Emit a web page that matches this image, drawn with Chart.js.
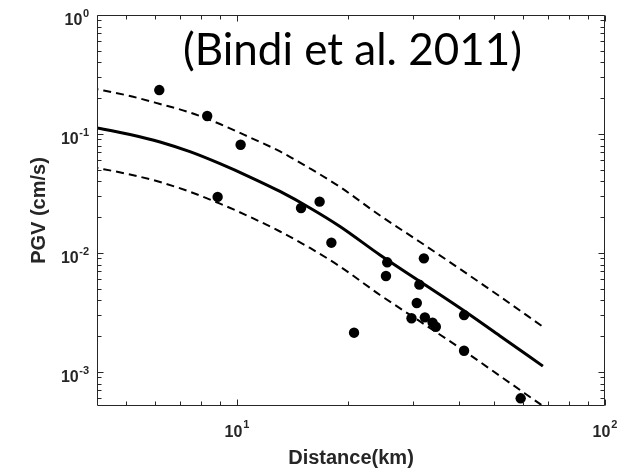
<!DOCTYPE html>
<html>
<head>
<meta charset="utf-8">
<script src="https://cdn.jsdelivr.net/npm/chart.js@4/dist/chart.umd.min.js"></script>
<style>
  html, body { margin: 0; padding: 0; background: #ffffff; }
  #wrap { width: 641px; height: 469px; }
</style>
</head>
<body>
<div id="wrap"><canvas id="c" width="641" height="469"></canvas></div>
<script>
const distanceKm = [6.15, 8.30, 10.23, 8.86, 14.93, 16.77, 18.05, 25.6, 25.4, 32.2, 31.3, 30.8, 29.8, 32.4, 34.0, 34.7, 20.8, 41.4, 41.4, 59.0];
const pgvCmS     = [0.234, 0.1417, 0.0813, 0.0296, 0.0239, 0.0270, 0.01221, 0.00835, 0.00641, 0.00902, 0.00542, 0.0038, 0.00283, 0.00288, 0.00260, 0.00240, 0.00214, 0.00301, 0.00151, 0.000601];

// ---- GMPE curves (Bindi et al. 2011) ----
const curveDistanceKm = [4, 5.12, 6.18, 7.45, 8.99, 10.85, 13.09, 15.79, 19.05, 24.47, 31.43, 40.36, 51.84, 67.8];
const medianPgv = [0.1151, 0.0990, 0.0857, 0.0710, 0.0563, 0.0435, 0.0329, 0.0239, 0.0167, 0.00962, 0.00576, 0.00345, 0.00201, 0.00112];
const upperPgv  = [0.2435, 0.2086, 0.1787, 0.1516, 0.1213, 0.0935, 0.0713, 0.0513, 0.0359, 0.02066, 0.01237, 0.00734, 0.00431, 0.0024];
const lowerPgv  = [0.0531, 0.0457, 0.0395, 0.0327, 0.0260, 0.0201, 0.01516, 0.01102, 0.0077, 0.00444, 0.00266, 0.00159, 0.000926, 0.000518];

// ---- Axes / labels ----
const xRange = [4.165, 100];
const yRange = [0.000518, 1];
const xMajorTicks = [10, 100];
const xTickExponents = ['1', '2'];
const yMajorTicks = [0.001, 0.01, 0.1, 1];
const yTickExponents = ['-3', '-2', '-1', '0'];
const xAxisTitle = 'Distance(km)';
const yAxisTitle = 'PGV (cm/s)';
const chartTitle = '(Bindi et al. 2011)';

function logTicks(min, max) {
  const out = [];
  for (let e = Math.floor(Math.log10(min)); e <= Math.ceil(Math.log10(max)); e++) {
    for (let k = 1; k <= 9; k++) {
      const v = k * Math.pow(10, e);
      if (v >= min * 0.9999 && v <= max * 1.0001) out.push({ v, major: k === 1 });
    }
  }
  return out;
}

const pts = distanceKm.map((d, i) => ({ x: d, y: pgvCmS[i] }));
const curve = arr => curveDistanceKm.map((d, i) => ({ x: d, y: arr[i] }));

const AX = '#262626';
const LABEL_FONT = '"Liberation Sans", Arial, Helvetica, sans-serif';

const framePlugin = {
  id: 'frame',
  afterDatasetsDraw(chart) {
    const { ctx, chartArea: a, scales: { x, y } } = chart;
    ctx.save();
    ctx.strokeStyle = AX;
    ctx.lineWidth = 1;
    const L = Math.round(a.left) + 0.5, R = Math.round(a.right) - 0.5;
    const T = Math.round(a.top) + 0.5, B = Math.round(a.bottom) - 0.5;
    ctx.beginPath();
    ctx.rect(L, T, R - L, B - T);
    ctx.stroke();

    // x ticks (bottom and top, inward)
    ctx.beginPath();
    logTicks(xRange[0], xRange[1]).forEach(t => {
      const px = Math.round(x.getPixelForValue(t.v)) + 0.5;
      const len = t.major ? 6 : 4;
      ctx.moveTo(px, B); ctx.lineTo(px, B - len);
      ctx.moveTo(px, T); ctx.lineTo(px, T + len);
    });
    // y ticks (left and right, inward)
    logTicks(yRange[0], yRange[1]).forEach(t => {
      const py = Math.round(y.getPixelForValue(t.v)) + 0.5;
      const len = t.major ? 6 : 4;
      ctx.moveTo(L, py); ctx.lineTo(L + len, py);
      ctx.moveTo(R, py); ctx.lineTo(R - len, py);
    });
    ctx.stroke();

    // tick labels
    ctx.fillStyle = AX;
    ctx.textBaseline = 'alphabetic';
    const big = 'bold 16px ' + LABEL_FONT;
    const small = 'bold 11px ' + LABEL_FONT;
    yMajorTicks.forEach((v, i) => {
      const py = y.getPixelForValue(v);
      ctx.font = small;
      const ew = ctx.measureText(yTickExponents[i]).width;
      const ex = a.left - 8 - ew;
      ctx.textAlign = 'left';
      ctx.fillText(yTickExponents[i], ex, py + 2);
      ctx.font = big;
      ctx.textAlign = 'right';
      ctx.fillText('10', ex - 0.5, py + 10);
    });
    xMajorTicks.forEach((v, i) => {
      const px = x.getPixelForValue(v);
      ctx.font = big;
      const bw = ctx.measureText('10').width;
      ctx.font = small;
      const ew = ctx.measureText(xTickExponents[i]).width;
      const start = px - (bw + 1 + ew) / 2;
      ctx.textAlign = 'left';
      ctx.font = big;
      ctx.fillText('10', start, a.bottom + 31);
      ctx.font = small;
      ctx.fillText(xTickExponents[i], start + bw + 1, a.bottom + 22);
    });

    // axis titles
    ctx.font = 'bold 20px ' + LABEL_FONT;
    ctx.textAlign = 'center';
    ctx.fillText(xAxisTitle, (a.left + a.right) / 2, 464);
    ctx.save();
    ctx.translate(45, (a.top + a.bottom) / 2);
    ctx.rotate(-Math.PI / 2);
    ctx.fillText(yAxisTitle, 0, 0);
    ctx.restore();

    // in-plot title
    ctx.fillStyle = '#000000';
    ctx.font = '44px Lato, "Open Sans", sans-serif';
    const w = ctx.measureText(chartTitle).width;
    const size = 44 * 339 / w;
    ctx.font = size.toFixed(2) + 'px Lato, "Open Sans", sans-serif';
    ctx.textAlign = 'left';
    ctx.fillText(chartTitle, 183, 65);
    ctx.restore();
  }
};

new Chart(document.getElementById('c'), {
  type: 'scatter',
  data: {
    datasets: [
      { label: 'median', data: curve(medianPgv), showLine: true, borderColor: '#000', borderWidth: 3,
        pointRadius: 0, cubicInterpolationMode: 'monotone', clip: 0 },
      { label: '+1 sigma', data: curve(upperPgv), showLine: true, borderColor: '#000', borderWidth: 2,
        borderDash: [8, 5], pointRadius: 0, cubicInterpolationMode: 'monotone', clip: 0 },
      { label: '-1 sigma', data: curve(lowerPgv), showLine: true, borderColor: '#000', borderWidth: 2,
        borderDash: [8, 5], pointRadius: 0, cubicInterpolationMode: 'monotone', clip: 0 },
      { label: 'observed', data: pts, showLine: false, backgroundColor: '#000', borderColor: '#000',
        borderWidth: 0, pointRadius: 5.2, pointHoverRadius: 5.2 }
    ]
  },
  options: {
    responsive: false,
    animation: false,
    devicePixelRatio: 1,
    layout: { padding: { left: 97, right: 36, top: 15, bottom: 63 } },
    plugins: { legend: { display: false }, tooltip: { enabled: false }, title: { display: false } },
    events: [],
    scales: {
      x: { type: 'logarithmic', min: xRange[0], max: xRange[1], display: false },
      y: { type: 'logarithmic', min: yRange[0], max: yRange[1], display: false }
    }
  },
  plugins: [framePlugin]
});
</script>
</body>
</html>
